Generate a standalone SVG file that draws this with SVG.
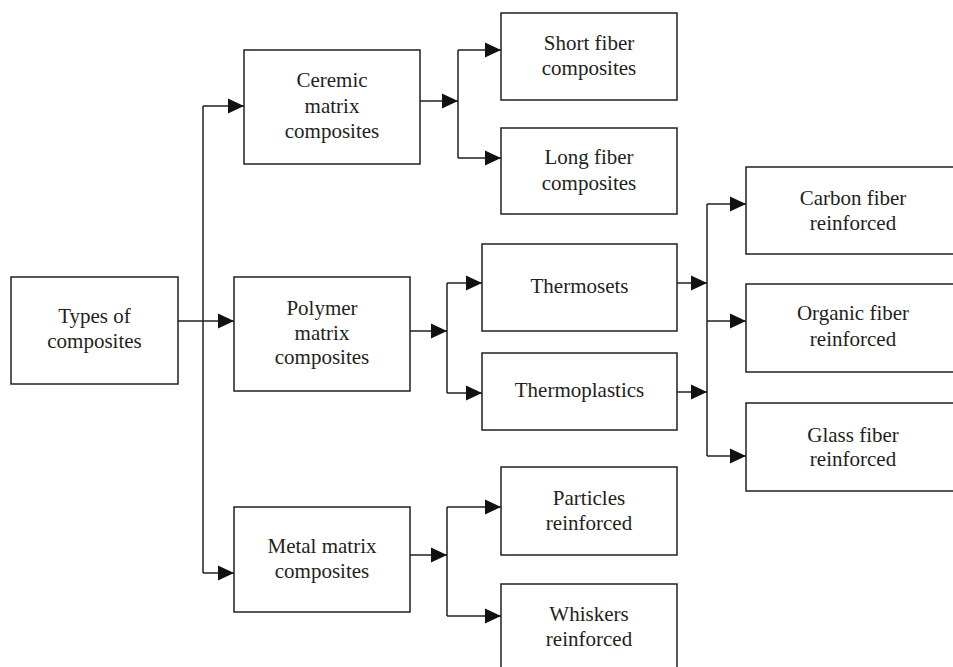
<svg xmlns="http://www.w3.org/2000/svg" width="953" height="667" viewBox="0 0 953 667">
<style>
.box{fill:#fff;stroke:#231f20;stroke-width:1.5}
.t{font-family:"Liberation Serif","Times New Roman",serif;font-size:21px;fill:#231f20;text-anchor:middle}
.c{fill:none;stroke:#231f20;stroke-width:1.5}
</style>
<defs>
<marker id="ah" markerUnits="userSpaceOnUse" markerWidth="16" markerHeight="16" viewBox="0 0 15 14" refX="15" refY="7" orient="auto">
<path d="M0,0 L15,7 L0,14 Z" fill="#111"/>
</marker>
</defs>
<rect width="953" height="667" fill="#fff"/>
<g id="connectors">
<path class="c" d="M178,321 H234" marker-end="url(#ah)"/>
<path class="c" d="M203,106 V573"/>
<path class="c" d="M203,106 H244" marker-end="url(#ah)"/>
<path class="c" d="M203,573 H234" marker-end="url(#ah)"/>
<path class="c" d="M420,101 H458" marker-end="url(#ah)"/>
<path class="c" d="M458,50 V158"/>
<path class="c" d="M458,50 H501" marker-end="url(#ah)"/>
<path class="c" d="M458,158 H501" marker-end="url(#ah)"/>
<path class="c" d="M410,331 H447" marker-end="url(#ah)"/>
<path class="c" d="M447,283 V393"/>
<path class="c" d="M447,283 H482" marker-end="url(#ah)"/>
<path class="c" d="M447,393 H482" marker-end="url(#ah)"/>
<path class="c" d="M677,283 H707" marker-end="url(#ah)"/>
<path class="c" d="M677,392 H707" marker-end="url(#ah)"/>
<path class="c" d="M707,204 V456"/>
<path class="c" d="M707,204 H746" marker-end="url(#ah)"/>
<path class="c" d="M707,321 H746" marker-end="url(#ah)"/>
<path class="c" d="M707,456 H746" marker-end="url(#ah)"/>
<path class="c" d="M410,555 H447" marker-end="url(#ah)"/>
<path class="c" d="M447,507 V616"/>
<path class="c" d="M447,507 H501" marker-end="url(#ah)"/>
<path class="c" d="M447,616 H501" marker-end="url(#ah)"/>
</g>
<g id="types">
<rect class="box" x="11" y="277" width="167" height="107"/>
<text class="t" x="94.5" y="323">Types of</text>
<text class="t" x="94.5" y="348">composites</text>
</g>
<g id="ceremic">
<rect class="box" x="244" y="50" width="176" height="114"/>
<text class="t" x="332" y="87">Ceremic</text>
<text class="t" x="332" y="113">matrix</text>
<text class="t" x="332" y="138">composites</text>
</g>
<g id="polymer">
<rect class="box" x="234" y="277" width="176" height="114"/>
<text class="t" x="322" y="315">Polymer</text>
<text class="t" x="322" y="340">matrix</text>
<text class="t" x="322" y="364">composites</text>
</g>
<g id="metal">
<rect class="box" x="234" y="507" width="176" height="105"/>
<text class="t" x="322" y="553">Metal matrix</text>
<text class="t" x="322" y="578">composites</text>
</g>
<g id="short">
<rect class="box" x="501" y="13" width="176" height="87"/>
<text class="t" x="589" y="50">Short fiber</text>
<text class="t" x="589" y="75">composites</text>
</g>
<g id="long">
<rect class="box" x="501" y="128" width="176" height="86"/>
<text class="t" x="589" y="164">Long fiber</text>
<text class="t" x="589" y="190">composites</text>
</g>
<g id="thermosets">
<rect class="box" x="482" y="244" width="195" height="87"/>
<text class="t" x="579.5" y="293">Thermosets</text>
</g>
<g id="thermoplastics">
<rect class="box" x="482" y="353" width="195" height="77"/>
<text class="t" x="579.5" y="397">Thermoplastics</text>
</g>
<g id="particles">
<rect class="box" x="501" y="467" width="176" height="88"/>
<text class="t" x="589" y="505">Particles</text>
<text class="t" x="589" y="530">reinforced</text>
</g>
<g id="whiskers">
<rect class="box" x="501" y="584" width="176" height="100"/>
<text class="t" x="589" y="621">Whiskers</text>
<text class="t" x="589" y="646">reinforced</text>
</g>
<g id="carbon">
<rect class="box" x="746" y="167" width="220" height="87"/>
<text class="t" x="853" y="205">Carbon fiber</text>
<text class="t" x="853" y="230">reinforced</text>
</g>
<g id="organic">
<rect class="box" x="746" y="284" width="220" height="88"/>
<text class="t" x="853" y="320">Organic fiber</text>
<text class="t" x="853" y="346">reinforced</text>
</g>
<g id="glass">
<rect class="box" x="746" y="403" width="220" height="88"/>
<text class="t" x="853" y="442">Glass fiber</text>
<text class="t" x="853" y="466">reinforced</text>
</g>
</svg>
